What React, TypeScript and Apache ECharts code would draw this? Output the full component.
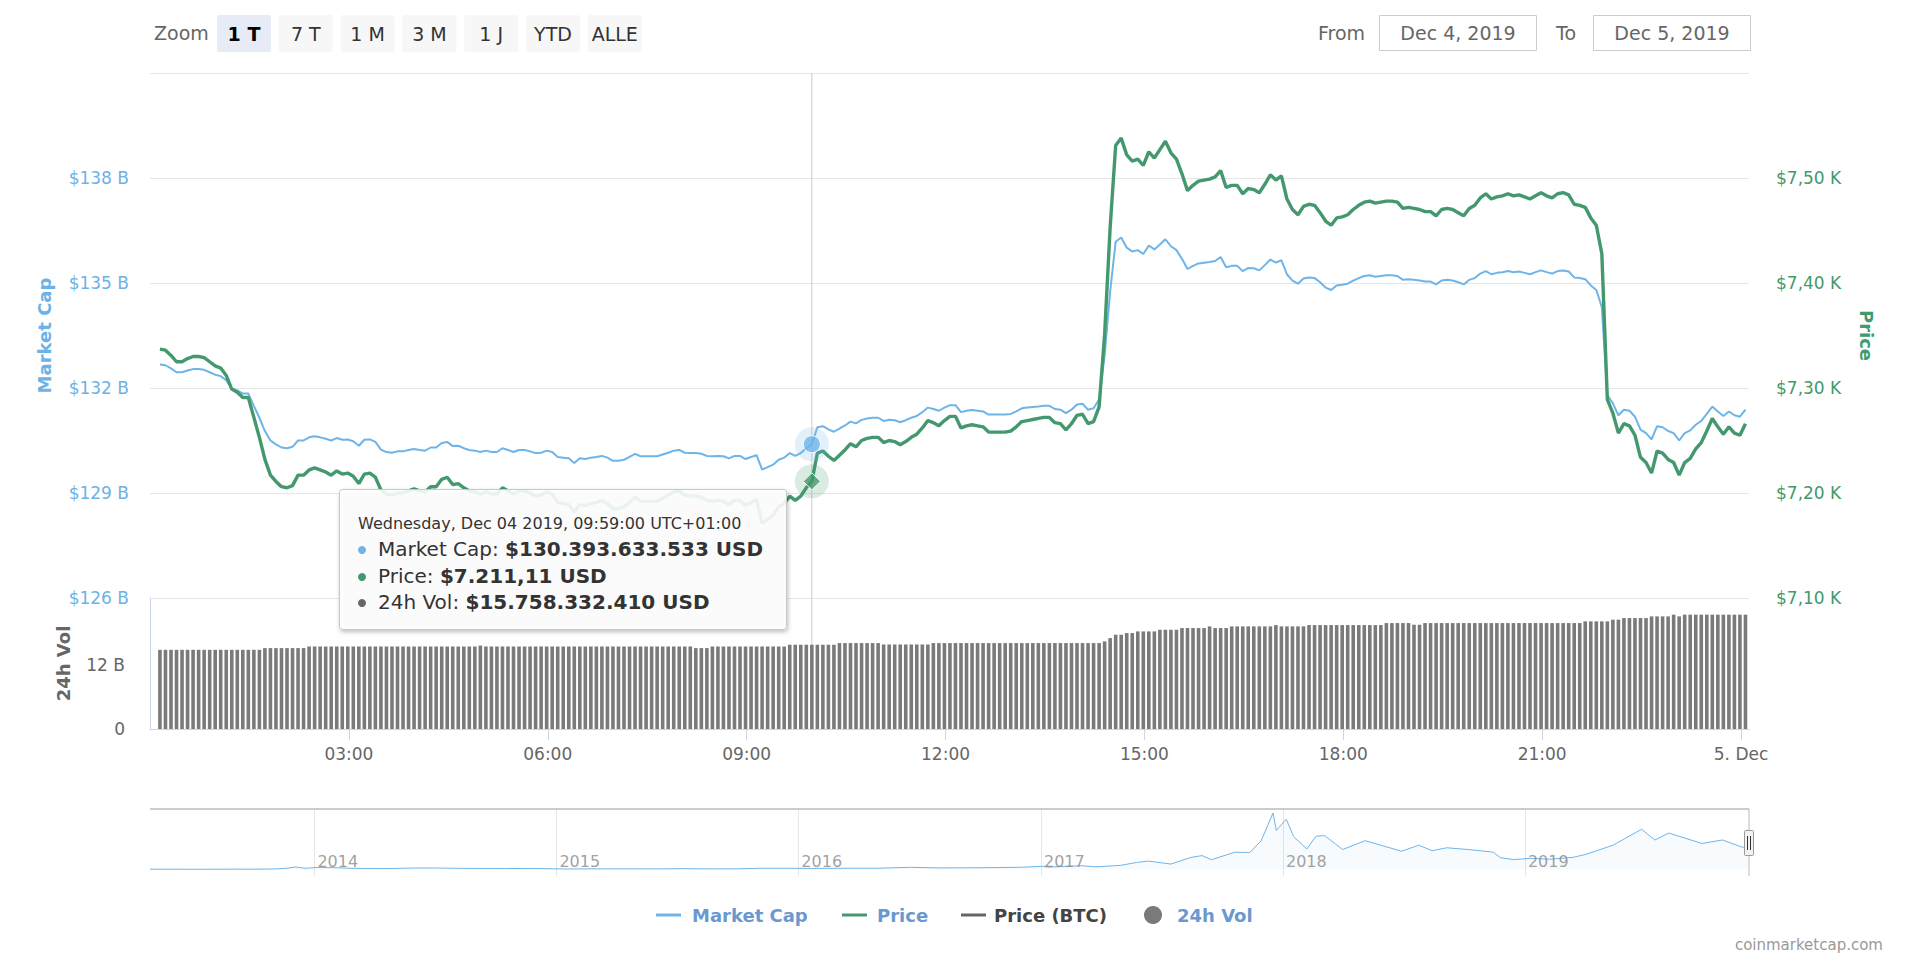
import React, { useEffect, useRef } from 'react';
import * as echarts from 'echarts';

const FONT = '"DejaVu Sans", Verdana, sans-serif';

// ---- Data: Dec 4 2019, 5-minute points starting 00:09 (UTC+01:00) ----
const START_MINUTE = 9;
const STEP_MINUTES = 5;

const priceUsd: number[] = [
  7337, 7336, 7331, 7325, 7325, 7328, 7330, 7330, 7329, 7325, 7321, 7319,
  7312, 7299, 7296, 7291, 7291, 7272, 7253, 7232, 7217, 7211, 7206, 7205,
  7207, 7217, 7217, 7222, 7224, 7222, 7220, 7217, 7221, 7218, 7219, 7216,
  7209, 7218, 7219, 7215, 7203, 7199, 7198, 7200, 7200, 7202, 7204, 7202,
  7201, 7206, 7206, 7213, 7215, 7208, 7209, 7205, 7202, 7201, 7199, 7201,
  7199, 7199, 7205, 7202, 7199, 7202, 7202, 7200, 7197, 7198, 7201, 7199,
  7191, 7190, 7189, 7182, 7189, 7188, 7190, 7191, 7193, 7190, 7185, 7185,
  7187, 7191, 7196, 7192, 7192, 7192, 7192, 7195, 7198, 7201, 7202, 7198,
  7197, 7197, 7196, 7193, 7192, 7193, 7192, 7189, 7193, 7193, 7188, 7191,
  7194, 7171, 7175, 7179, 7187, 7190, 7197, 7193, 7197, 7205, 7211.11, 7238,
  7240, 7235, 7231, 7236, 7241, 7247, 7244, 7250, 7252, 7253, 7253, 7248,
  7250, 7249, 7246, 7249, 7253, 7256, 7262, 7269, 7267, 7264, 7269, 7273,
  7273, 7262, 7264, 7265, 7264, 7263, 7258, 7258, 7258, 7258, 7259, 7263,
  7268, 7269, 7270, 7271, 7272, 7272, 7267, 7266, 7260, 7266, 7274, 7275,
  7266, 7268, 7282, 7351, 7453, 7531, 7538, 7522, 7516, 7518, 7512, 7525,
  7519, 7527, 7535, 7524, 7518, 7504, 7488, 7493, 7497, 7498, 7499, 7501,
  7507, 7491, 7493, 7493, 7485, 7490, 7489, 7486, 7494, 7503, 7498, 7502,
  7480, 7470, 7465, 7473, 7475, 7474, 7467, 7459, 7455, 7462, 7463, 7465,
  7470, 7474, 7477, 7478, 7476, 7477, 7478, 7478, 7477, 7471, 7472, 7471,
  7470, 7468, 7468, 7464, 7470, 7471, 7470, 7467, 7464, 7471, 7474, 7481,
  7485, 7480, 7482, 7483, 7485, 7483, 7484, 7482, 7480, 7483, 7486, 7483,
  7481, 7485, 7486, 7484, 7475, 7474, 7472, 7462, 7455, 7428, 7289, 7276,
  7257, 7266, 7264, 7255, 7234, 7229, 7219, 7240, 7238, 7232, 7229, 7217,
  7229, 7233, 7242, 7248, 7259, 7271, 7263, 7256, 7263, 7257, 7255, 7266,
];

// Market cap in billions USD
const marketCapB: number[] = [
  132.67, 132.65, 132.56, 132.45, 132.45, 132.50, 132.54, 132.54, 132.52, 132.45, 132.38, 132.34,
  132.22, 131.98, 131.93, 131.84, 131.84, 131.49, 131.15, 130.77, 130.50, 130.39, 130.30, 130.28,
  130.32, 130.50, 130.50, 130.59, 130.62, 130.59, 130.55, 130.50, 130.57, 130.52, 130.53, 130.48,
  130.35, 130.52, 130.53, 130.46, 130.24, 130.17, 130.15, 130.19, 130.19, 130.23, 130.26, 130.23,
  130.21, 130.30, 130.30, 130.43, 130.46, 130.34, 130.35, 130.28, 130.23, 130.21, 130.17, 130.21,
  130.17, 130.17, 130.28, 130.23, 130.17, 130.23, 130.23, 130.19, 130.14, 130.15, 130.21, 130.17,
  130.03, 130.01, 129.99, 129.86, 129.99, 129.97, 130.01, 130.03, 130.06, 130.01, 129.92, 129.92,
  129.95, 130.03, 130.12, 130.05, 130.05, 130.05, 130.05, 130.10, 130.15, 130.21, 130.23, 130.15,
  130.14, 130.14, 130.12, 130.06, 130.05, 130.06, 130.05, 129.99, 130.06, 130.06, 129.97, 130.03,
  130.08, 129.67, 129.74, 129.81, 129.95, 130.01, 130.14, 130.06, 130.14, 130.28, 130.393633533, 130.88,
  130.91, 130.82, 130.75, 130.84, 130.93, 131.04, 130.99, 131.09, 131.13, 131.15, 131.15, 131.06,
  131.09, 131.08, 131.02, 131.08, 131.15, 131.20, 131.31, 131.44, 131.40, 131.35, 131.44, 131.51,
  131.51, 131.31, 131.35, 131.37, 131.35, 131.33, 131.24, 131.24, 131.24, 131.24, 131.26, 131.33,
  131.42, 131.44, 131.46, 131.47, 131.49, 131.49, 131.40, 131.38, 131.28, 131.38, 131.53, 131.55,
  131.38, 131.42, 131.67, 132.92, 134.76, 136.18, 136.30, 136.01, 135.90, 135.94, 135.83, 136.07,
  135.96, 136.10, 136.25, 136.05, 135.94, 135.69, 135.40, 135.49, 135.56, 135.58, 135.60, 135.63,
  135.74, 135.45, 135.49, 135.49, 135.34, 135.43, 135.42, 135.36, 135.51, 135.67, 135.58, 135.65,
  135.25, 135.07, 134.98, 135.13, 135.16, 135.14, 135.02, 134.87, 134.80, 134.93, 134.95, 134.98,
  135.07, 135.14, 135.20, 135.22, 135.18, 135.20, 135.22, 135.22, 135.20, 135.09, 135.11, 135.09,
  135.07, 135.04, 135.04, 134.96, 135.07, 135.09, 135.07, 135.02, 134.96, 135.09, 135.14, 135.27,
  135.34, 135.25, 135.29, 135.31, 135.34, 135.31, 135.33, 135.29, 135.25, 135.31, 135.36, 135.31,
  135.27, 135.34, 135.36, 135.33, 135.16, 135.14, 135.11, 134.93, 134.80, 134.31, 131.80, 131.56,
  131.22, 131.38, 131.35, 131.18, 130.81, 130.71, 130.53, 130.91, 130.88, 130.77, 130.71, 130.50,
  130.71, 130.79, 130.95, 131.06, 131.26, 131.47, 131.33, 131.20, 131.33, 131.22, 131.18, 131.38,
];

// 24h volume in billions USD
const volumeB: number[] = [
  14.81, 14.81, 14.81, 14.81, 14.81, 14.81, 14.81, 14.81, 14.81, 14.81, 14.81, 14.81,
  14.81, 14.81, 14.81, 14.81, 14.81, 14.81, 14.81, 15.13, 15.13, 15.13, 15.13, 15.13,
  15.13, 15.13, 15.13, 15.43, 15.43, 15.43, 15.43, 15.43, 15.43, 15.43, 15.43, 15.43,
  15.43, 15.43, 15.43, 15.43, 15.43, 15.43, 15.43, 15.43, 15.43, 15.43, 15.43, 15.43,
  15.43, 15.43, 15.43, 15.43, 15.43, 15.43, 15.43, 15.43, 15.43, 15.43, 15.60, 15.43,
  15.43, 15.43, 15.43, 15.43, 15.43, 15.43, 15.43, 15.43, 15.43, 15.43, 15.43, 15.43,
  15.43, 15.43, 15.43, 15.43, 15.43, 15.43, 15.43, 15.43, 15.43, 15.43, 15.43, 15.43,
  15.43, 15.43, 15.43, 15.43, 15.43, 15.43, 15.43, 15.43, 15.43, 15.43, 15.43, 15.43,
  15.43, 15.13, 15.13, 15.13, 15.43, 15.43, 15.43, 15.43, 15.43, 15.43, 15.43, 15.43,
  15.43, 15.43, 15.43, 15.43, 15.43, 15.43, 15.76, 15.76, 15.76, 15.76, 15.75833241, 15.76,
  15.76, 15.76, 15.76, 16.07, 16.07, 16.07, 16.07, 16.07, 16.07, 16.07, 16.07, 15.81,
  15.81, 15.81, 15.81, 15.81, 15.81, 15.81, 15.81, 15.81, 16.07, 16.07, 16.07, 16.07,
  16.07, 16.07, 16.07, 16.07, 16.07, 16.07, 16.07, 16.07, 16.07, 16.07, 16.07, 16.07,
  16.07, 16.07, 16.07, 16.07, 16.07, 16.07, 16.07, 16.07, 16.07, 16.07, 16.07, 16.07,
  16.07, 16.07, 16.07, 16.38, 17.00, 17.63, 17.63, 17.94, 17.94, 18.25, 18.25, 18.25,
  18.25, 18.56, 18.56, 18.56, 18.56, 18.88, 18.88, 18.88, 18.88, 18.88, 19.19, 18.88,
  18.88, 18.88, 19.19, 19.19, 19.19, 19.19, 19.19, 19.19, 19.19, 19.19, 19.44, 19.19,
  19.19, 19.19, 19.19, 19.19, 19.44, 19.44, 19.44, 19.44, 19.44, 19.44, 19.44, 19.44,
  19.44, 19.44, 19.44, 19.44, 19.44, 19.44, 19.81, 19.81, 19.81, 19.81, 19.81, 19.50,
  19.50, 19.81, 19.81, 19.81, 19.81, 19.81, 19.81, 19.81, 19.81, 19.81, 19.81, 19.81,
  19.81, 19.81, 19.81, 19.81, 19.81, 19.81, 19.81, 19.81, 19.81, 19.81, 19.81, 19.81,
  19.81, 19.81, 19.81, 19.81, 19.81, 19.81, 20.13, 20.13, 20.13, 20.13, 20.13, 20.44,
  20.44, 20.75, 20.75, 20.75, 20.75, 20.75, 21.06, 21.06, 21.06, 21.06, 21.38, 21.06,
  21.38, 21.38, 21.38, 21.38, 21.38, 21.38, 21.38, 21.38, 21.38, 21.38, 21.38, 21.38,
];

const TOOLTIP_INDEX = 118; // 09:59

// X axis ticks (hours of Dec 4) and their labels
const xTickHours = [3, 6, 9, 12, 15, 18, 21, 24];
const xTickLabels = ['03:00', '06:00', '09:00', '12:00', '15:00', '18:00', '21:00', '5. Dec'];

// Navigator: bitcoin market cap history (billions USD)
const navDates = [
  '2013-04-28', '2013-06-01', '2013-07-05', '2013-08-01', '2013-09-01', '2013-10-01', '2013-11-01', '2013-11-18',
  '2013-12-04', '2013-12-18', '2014-01-05', '2014-02-01', '2014-02-25', '2014-04-10', '2014-05-01', '2014-06-03',
  '2014-07-01', '2014-08-18', '2014-09-25', '2014-10-15', '2014-12-01', '2015-01-14', '2015-02-15', '2015-04-14',
  '2015-06-01', '2015-07-12', '2015-08-24', '2015-10-01', '2015-11-04', '2015-12-15', '2016-01-15', '2016-03-01',
  '2016-05-01', '2016-06-17', '2016-08-02', '2016-10-01', '2016-12-01', '2017-01-04', '2017-01-12', '2017-03-03',
  '2017-03-25', '2017-05-01', '2017-05-25', '2017-06-12', '2017-07-16', '2017-08-15', '2017-09-01', '2017-09-15',
  '2017-10-20', '2017-11-12', '2017-11-29', '2017-12-17', '2017-12-22', '2018-01-06', '2018-01-17', '2018-02-06',
  '2018-02-20', '2018-03-05', '2018-04-01', '2018-05-05', '2018-06-29', '2018-07-25', '2018-08-14', '2018-09-05',
  '2018-10-10', '2018-11-14', '2018-11-25', '2018-12-15', '2019-01-10', '2019-02-07', '2019-03-15', '2019-04-02',
  '2019-05-14', '2019-06-26', '2019-07-16', '2019-08-06', '2019-09-25', '2019-10-26', '2019-11-25', '2019-12-05',
];
const navCapsB = [
  1.5, 1.3, 0.8, 1.1, 1.6, 1.5, 2.5, 6.0,
  13.8, 6.5, 11.0, 10.0, 6.5, 4.8, 5.6, 8.2,
  8.2, 6.0, 5.6, 5.3, 5.2, 2.4, 3.3, 3.1,
  3.2, 4.4, 3.1, 3.5, 6.6, 6.6, 5.7, 6.5,
  7.0, 12.1, 8.7, 9.7, 12.2, 18.1, 13.2, 21.4,
  14.8, 23.5, 40.0, 48.2, 31.0, 69.0, 80.0, 56.0,
  99.0, 98.0, 165.0, 326.0, 225.0, 290.0, 190.0, 118.0,
  192.0, 195.0, 115.0, 166.0, 105.0, 140.0, 108.0, 125.0,
  114.0, 100.0, 68.0, 57.0, 64.0, 59.0, 70.0, 86.0,
  140.0, 232.0, 170.0, 210.0, 150.0, 170.0, 128.0, 130.0,
];
const navYears = ['2014', '2015', '2016', '2017', '2018', '2019'];

// Toolbar texts
const zoomButtons = ['1 T', '7 T', '1 M', '3 M', '1 J', 'YTD', 'ALLE'];
const fromDate = 'Dec 4, 2019';
const toDate = 'Dec 5, 2019';

// ---- Colors ----
const BLUE = '#6fb4e8';
const BLUE_LABEL = '#6db2e6';
const GREEN = '#43996d';
const GREEN_LABEL = '#3f9a6c';
const VOL = '#7a7a7a';
const LEGEND_BLUE = '#6a98d0';

function hourOf(i: number) {
  return (START_MINUTE + STEP_MINUTES * i) / 60;
}
function groupThousands(s: string) {
  return s.replace(/\B(?=(\d{3})+(?!\d))/g, '.');
}
function pad2(n: number) {
  return n < 10 ? '0' + n : String(n);
}

function buildOption() {
  const t = priceUsd.map((_, i) => hourOf(i));
  const capData = marketCapB.map((v, i) => [t[i], v]);
  const priceData = priceUsd.map((v, i) => [t[i], v]);
  const volData = volumeB.map((v, i) => [t[i], v]);
  const tt = t[TOOLTIP_INDEX];
  const mcap = marketCapB[TOOLTIP_INDEX];
  const pr = priceUsd[TOOLTIP_INDEX];
  const vol = volumeB[TOOLTIP_INDEX];

  const totalMin = START_MINUTE + STEP_MINUTES * TOOLTIP_INDEX;
  const header = `Wednesday, Dec 04 2019, ${pad2(Math.floor(totalMin / 60))}:${pad2(totalMin % 60)}:00 UTC+01:00`;
  const capStr = '$' + groupThousands(String(Math.round(mcap * 1e9))) + ' USD';
  const prInt = Math.floor(pr);
  const prDec = Math.round((pr - prInt) * 100);
  const priceStr = '$' + groupThousands(String(prInt)) + ',' + pad2(prDec) + ' USD';
  const volStr = '$' + groupThousands(String(Math.round(vol * 1e9))) + ' USD';

  const txt = (text: string, x: number, y: number, opts: any = {}) => ({
    type: 'text',
    z: 100,
    silent: true,
    style: {
      text,
      x,
      y,
      fill: opts.fill || '#666',
      fontSize: opts.fontSize || 19,
      fontFamily: FONT,
      fontWeight: opts.fontWeight || 'normal',
      align: opts.align || 'left',
      textAlign: opts.align || 'left',
      verticalAlign: 'middle',
      textVerticalAlign: 'middle',
      rich: opts.rich,
    },
  });

  const graphics: any[] = [];
  // Toolbar
  graphics.push(txt('Zoom', 154, 33, { fill: '#666' }));
  zoomButtons.forEach((b, k) => {
    const x = 217 + k * 61.8;
    graphics.push({
      type: 'rect', z: 100, silent: true,
      shape: { x, y: 15, width: 54, height: 37, r: 2 },
      style: { fill: k === 0 ? '#e6ebf5' : '#f7f7f7' },
    });
    graphics.push(txt(b, x + 27, 33.5, { align: 'center', fill: k === 0 ? '#000' : '#333', fontWeight: k === 0 ? 'bold' : 'normal' }));
  });
  graphics.push(txt('From', 1318, 33, { fill: '#666' }));
  graphics.push({ type: 'rect', z: 100, silent: true, shape: { x: 1379.5, y: 15.5, width: 157, height: 35 }, style: { fill: '#fff', stroke: '#cccccc', lineWidth: 1 } });
  graphics.push(txt(fromDate, 1458, 33, { align: 'center', fill: '#666' }));
  graphics.push(txt('To', 1556, 33, { fill: '#666' }));
  graphics.push({ type: 'rect', z: 100, silent: true, shape: { x: 1593.5, y: 15.5, width: 157, height: 35 }, style: { fill: '#fff', stroke: '#cccccc', lineWidth: 1 } });
  graphics.push(txt(toDate, 1672, 33, { align: 'center', fill: '#666' }));

  // Tooltip box
  graphics.push({
    type: 'rect', z: 100, silent: true,
    shape: { x: 339.5, y: 489.5, width: 447, height: 140, r: 3 },
    style: {
      fill: 'rgba(255,255,255,0.88)', stroke: '#c8c8c8', lineWidth: 1,
      shadowBlur: 4, shadowOffsetX: 1, shadowOffsetY: 2, shadowColor: 'rgba(0,0,0,0.28)',
    },
  });
  graphics.push(txt(header, 358, 523, { fill: '#333', fontSize: 16 }));
  const rows = [
    { c: BLUE, label: 'Market Cap: ', val: capStr, y: 549 },
    { c: GREEN, label: 'Price: ', val: priceStr, y: 576 },
    { c: '#666', label: '24h Vol: ', val: volStr, y: 602 },
  ];
  rows.forEach((r) => {
    graphics.push({ type: 'circle', z: 100, silent: true, shape: { cx: 362, cy: r.y + 1, r: 4 }, style: { fill: r.c } });
    graphics.push(txt(`{a|${r.label}}{b|${r.val}}`, 378, r.y, {
      fill: '#333', fontSize: 20,
      rich: {
        a: { fontSize: 20, fontFamily: FONT, fill: '#333', color: '#333' },
        b: { fontSize: 20, fontFamily: FONT, fontWeight: 'bold', fill: '#333', color: '#333' },
      },
    }));
  });

  // Navigator top outline and handle
  graphics.push({ type: 'line', z: 100, silent: true, shape: { x1: 150, y1: 809, x2: 1749, y2: 809 }, style: { stroke: '#cccccc', lineWidth: 2 } });
  graphics.push({ type: 'line', z: 100, silent: true, shape: { x1: 1749, y1: 809, x2: 1749, y2: 876 }, style: { stroke: '#bbbbbb', lineWidth: 1 } });
  graphics.push({ type: 'rect', z: 101, silent: true, shape: { x: 1744.5, y: 830.5, width: 9, height: 25, r: 1 }, style: { fill: '#f2f2f2', stroke: '#999', lineWidth: 1 } });
  graphics.push({ type: 'line', z: 102, silent: true, shape: { x1: 1747.5, y1: 836, x2: 1747.5, y2: 850 }, style: { stroke: '#333', lineWidth: 1 } });
  graphics.push({ type: 'line', z: 102, silent: true, shape: { x1: 1750.5, y1: 836, x2: 1750.5, y2: 850 }, style: { stroke: '#333', lineWidth: 1 } });

  // Legend
  const legendY = 915;
  graphics.push({ type: 'rect', z: 100, silent: true, shape: { x: 656, y: legendY - 1.5, width: 25, height: 3 }, style: { fill: BLUE } });
  graphics.push(txt('Market Cap', 692, legendY, { fill: LEGEND_BLUE, fontSize: 18, fontWeight: 'bold' }));
  graphics.push({ type: 'rect', z: 100, silent: true, shape: { x: 842, y: legendY - 1.5, width: 25, height: 3 }, style: { fill: GREEN } });
  graphics.push(txt('Price', 877, legendY, { fill: LEGEND_BLUE, fontSize: 18, fontWeight: 'bold' }));
  graphics.push({ type: 'rect', z: 100, silent: true, shape: { x: 961, y: legendY - 1.5, width: 25, height: 3 }, style: { fill: '#666' } });
  graphics.push(txt('Price (BTC)', 994, legendY, { fill: '#444', fontSize: 18, fontWeight: 'bold' }));
  graphics.push({ type: 'circle', z: 100, silent: true, shape: { cx: 1153, cy: legendY, r: 9 }, style: { fill: VOL } });
  graphics.push(txt('24h Vol', 1177, legendY, { fill: LEGEND_BLUE, fontSize: 18, fontWeight: 'bold' }));

  // Footer credit
  graphics.push(txt('coinmarketcap.com', 1883, 945, { fill: '#999', fontSize: 15, align: 'right' }));

  return {
    animation: false,
    backgroundColor: '#ffffff',
    textStyle: { fontFamily: FONT },
    tooltip: { show: false },
    grid: [
      { left: 150, right: 171, top: 73, height: 525 },
      { left: 150, right: 171, top: 598, height: 131 },
      { left: 150, right: 171, top: 809, height: 67 },
    ],
    xAxis: [
      { type: 'value', gridIndex: 0, min: 0, max: 24.12, interval: 3, show: false },
      {
        type: 'value', gridIndex: 1, min: 0, max: 24.12, interval: 3,
        axisLine: { show: true, lineStyle: { color: '#ccd6eb', width: 1 } },
        axisTick: { show: true, length: 11, lineStyle: { color: '#ccd6eb' }, customValues: xTickHours },
        axisLabel: {
          color: '#666', fontSize: 17, fontFamily: FONT, margin: 16,
          customValues: xTickHours,
          formatter: (v: number) => {
            const k = xTickHours.indexOf(Math.round(v));
            return k >= 0 && Math.abs(v - Math.round(v)) < 1e-6 ? xTickLabels[k] : '';
          },
        },
        splitLine: { show: false },
      },
      { type: 'time', gridIndex: 2, min: navDates[0], max: navDates[navDates.length - 1], show: false },
    ],
    yAxis: [
      {
        type: 'value', gridIndex: 0, position: 'left', min: 126, max: 141, interval: 3,
        axisLine: { show: false }, axisTick: { show: false },
        axisLabel: { color: BLUE_LABEL, fontSize: 17, fontFamily: FONT, margin: 21, formatter: (v: number) => (v >= 141 ? '' : `$${v} B`) },
        splitLine: { show: true, lineStyle: { color: '#e6e6e6', width: 1 } },
        name: 'Market Cap', nameLocation: 'middle', nameRotate: 90, nameGap: 97,
        nameTextStyle: { color: BLUE_LABEL, fontSize: 18, fontWeight: 'bold', fontFamily: FONT },
      },
      {
        type: 'value', gridIndex: 0, position: 'right', min: 7100, max: 7600, interval: 100,
        axisLine: { show: false }, axisTick: { show: false },
        axisLabel: {
          color: GREEN_LABEL, fontSize: 17, fontFamily: FONT, margin: 27,
          formatter: (v: number) => (v >= 7600 ? '' : '$' + (v / 1000).toFixed(2).replace('.', ',') + ' K'),
        },
        splitLine: { show: false },
        name: 'Price', nameLocation: 'middle', nameRotate: -90, nameGap: 108,
        nameTextStyle: { color: GREEN_LABEL, fontSize: 18, fontWeight: 'bold', fontFamily: FONT },
      },
      {
        type: 'value', gridIndex: 1, position: 'left', min: 0, max: 24.5, interval: 12,
        axisLine: { show: true, lineStyle: { color: '#ccd6eb', width: 1 } }, axisTick: { show: false },
        axisLabel: { color: '#666', fontSize: 17, fontFamily: FONT, margin: 25, formatter: (v: number) => (v === 0 ? '0' : v < 20 ? `${v} B` : '') },
        splitLine: { show: false },
        name: '24h Vol', nameLocation: 'middle', nameRotate: 90, nameGap: 78,
        nameTextStyle: { color: '#666', fontSize: 18, fontWeight: 'bold', fontFamily: FONT },
      },
      { type: 'value', gridIndex: 2, min: -38, max: 349, show: false },
    ],
    series: [
      {
        name: 'crosshair-main', type: 'line', xAxisIndex: 0, yAxisIndex: 0, z: 1, silent: true,
        data: [[tt, 126], [tt, 141]], symbol: 'none', lineStyle: { color: '#cccccc', width: 1 },
      },
      {
        name: 'crosshair-vol', type: 'line', xAxisIndex: 1, yAxisIndex: 2, z: 1, silent: true,
        data: [[tt, 0], [tt, 24.5]], symbol: 'none', lineStyle: { color: '#cccccc', width: 1 },
      },
      {
        name: '24h Vol', type: 'bar', xAxisIndex: 1, yAxisIndex: 2, z: 2, silent: true,
        data: volData, barWidth: 3.6, itemStyle: { color: VOL },
      },
      {
        name: 'Market Cap', type: 'line', xAxisIndex: 0, yAxisIndex: 0, z: 3, silent: true,
        data: capData, symbol: 'none', showSymbol: false, lineStyle: { color: BLUE, width: 2 }, itemStyle: { color: BLUE },
      },
      {
        name: 'Price', type: 'line', xAxisIndex: 0, yAxisIndex: 1, z: 4, silent: true,
        data: priceData, symbol: 'none', showSymbol: false, lineStyle: { color: GREEN, width: 3.4 }, itemStyle: { color: GREEN },
      },
      {
        name: 'cap-halo', type: 'scatter', xAxisIndex: 0, yAxisIndex: 0, z: 5, silent: true,
        data: [[tt, mcap]], symbol: 'circle', symbolSize: 34, itemStyle: { color: 'rgba(111,180,232,0.25)' },
      },
      {
        name: 'cap-marker', type: 'scatter', xAxisIndex: 0, yAxisIndex: 0, z: 6, silent: true,
        data: [[tt, mcap]], symbol: 'circle', symbolSize: 17, itemStyle: { color: BLUE, borderColor: '#fff', borderWidth: 1 },
      },
      {
        name: 'price-halo', type: 'scatter', xAxisIndex: 0, yAxisIndex: 1, z: 5, silent: true,
        data: [[tt, pr]], symbol: 'circle', symbolSize: 34, itemStyle: { color: 'rgba(67,153,109,0.25)' },
      },
      {
        name: 'price-marker', type: 'scatter', xAxisIndex: 0, yAxisIndex: 1, z: 6, silent: true,
        data: [[tt, pr]], symbol: 'diamond', symbolSize: 17, itemStyle: { color: GREEN, borderColor: '#fff', borderWidth: 1 },
      },
      {
        name: 'navigator', type: 'line', xAxisIndex: 2, yAxisIndex: 3, z: 2, silent: true,
        data: navDates.map((d, i) => [d, navCapsB[i]]), symbol: 'none',
        lineStyle: { color: BLUE, width: 1 }, areaStyle: { color: 'rgba(111,180,232,0.07)' },
        markLine: {
          silent: true, symbol: 'none', z: 1,
          label: { show: false },
          lineStyle: { color: '#e6e6e6', width: 1, type: 'solid' },
          data: navYears.map((y) => ({ xAxis: `${y}-01-01` })),
        },
      },
      {
        name: 'navigator-years', type: 'scatter', xAxisIndex: 2, yAxisIndex: 3, z: 3, silent: true,
        data: navYears.map((y) => [`${y}-01-01`, 48]), symbolSize: 0,
        label: { show: true, position: 'right', distance: 3, color: '#888', fontSize: 16, fontFamily: FONT, formatter: (p: any) => String(new Date(p.value[0]).getFullYear()) },
      },
    ],
    graphic: graphics,
  };
}

export default function App() {
  const ref = useRef<HTMLDivElement>(null);
  useEffect(() => {
    document.body.style.margin = '0';
    if (!ref.current) return;
    const chart = echarts.init(ref.current, null, { renderer: 'svg' });
    chart.setOption(buildOption() as any);
    return () => chart.dispose();
  }, []);
  return (
    <div style={{ position: 'fixed', left: 0, top: 0, width: 1920, height: 976, background: '#fff' }}>
      <div ref={ref} style={{ width: 1920, height: 976 }} />
    </div>
  );
}
